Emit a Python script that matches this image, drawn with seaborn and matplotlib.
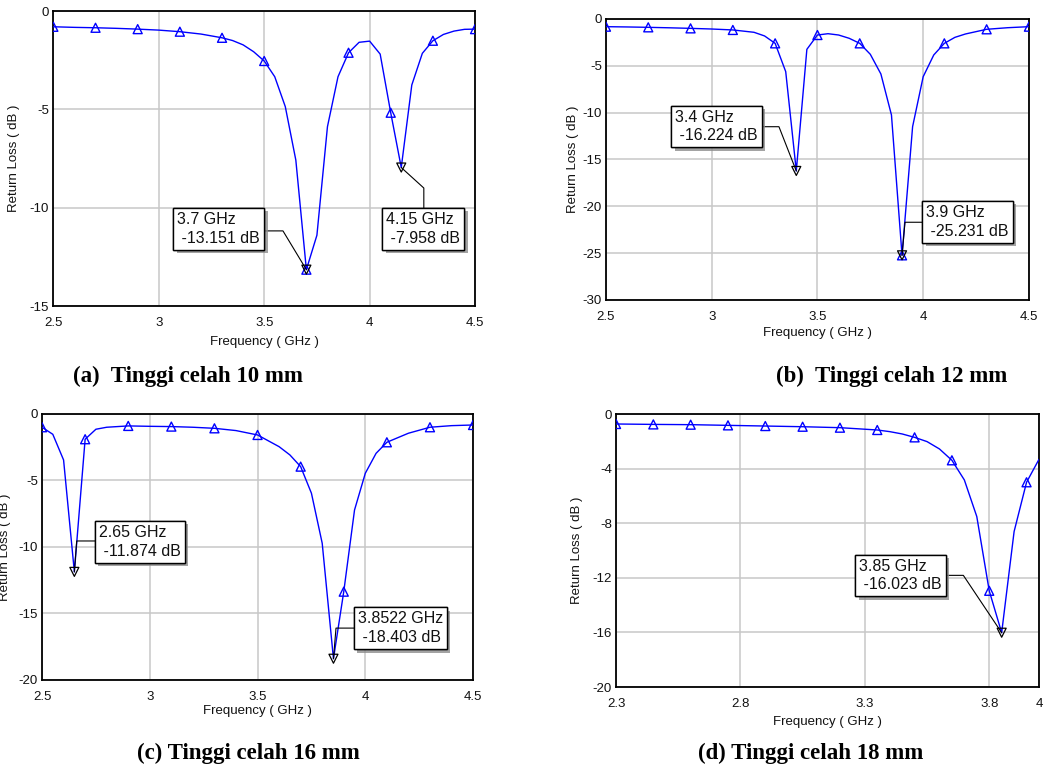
import matplotlib
matplotlib.use("Agg")
import matplotlib.pyplot as plt
import matplotlib.patheffects as pe
import seaborn as sns

# ---------------- data ----------------
freq_a = [2.5, 2.6, 2.7, 2.8, 2.9, 3.0, 3.1, 3.2, 3.3, 3.35, 3.4, 3.45, 3.5, 3.55, 3.6, 3.65,
          3.7, 3.75, 3.8, 3.85, 3.9, 3.95, 4.0, 4.05, 4.1, 4.15, 4.2, 4.25, 4.3, 4.35, 4.4, 4.45, 4.5]
rl_a = [-0.80, -0.83, -0.85, -0.88, -0.92, -0.97, -1.05, -1.17, -1.36, -1.50, -1.72, -2.07, -2.54,
        -3.34, -4.86, -7.58, -13.151, -11.40, -5.88, -3.34, -2.12, -1.59, -1.53, -2.19, -5.17,
        -7.958, -3.76, -2.15, -1.51, -1.19, -1.02, -0.93, -0.92]
marks_a = [2.5, 2.7, 2.9, 3.1, 3.3, 3.5, 3.7, 3.9, 4.1, 4.3, 4.5]
peaks_a = [3.7, 4.15]

freq_b = [2.5, 2.6, 2.7, 2.8, 2.9, 3.0, 3.1, 3.2, 3.25, 3.3, 3.35, 3.4, 3.45, 3.5, 3.55, 3.6, 3.65,
          3.7, 3.75, 3.8, 3.85, 3.9, 3.95, 4.0, 4.05, 4.1, 4.15, 4.2, 4.3, 4.4, 4.5]
rl_b = [-0.82, -0.85, -0.89, -0.94, -1.00, -1.07, -1.17, -1.42, -1.81, -2.60, -5.62, -16.224,
        -3.24, -1.71, -1.57, -1.71, -2.06, -2.60, -3.77, -5.87, -10.25, -25.231, -11.49, -6.16,
        -3.84, -2.60, -1.96, -1.60, -1.10, -0.93, -0.82]
marks_b = [2.5, 2.7, 2.9, 3.1, 3.3, 3.5, 3.7, 3.9, 4.1, 4.3, 4.5]
peaks_b = [3.4, 3.9]

freq_c = [2.5, 2.55, 2.6, 2.65, 2.7, 2.75, 2.8, 2.9, 3.0, 3.1, 3.2, 3.3, 3.4, 3.5, 3.6, 3.65, 3.7,
          3.75, 3.8, 3.8522, 3.9, 3.95, 4.0, 4.05, 4.1, 4.2, 4.3, 4.4, 4.5]
rl_c = [-1.00, -1.53, -3.46, -11.874, -1.90, -1.15, -1.00, -0.90, -0.93, -0.95, -1.00, -1.08,
        -1.25, -1.58, -2.46, -3.08, -3.96, -5.96, -9.72, -18.403, -13.36, -7.22, -4.46, -2.96,
        -2.13, -1.45, -1.00, -0.88, -0.83]
marks_c = [2.5, 2.7, 2.9, 3.1, 3.3, 3.5, 3.7, 3.9, 4.1, 4.3, 4.5]
peaks_c = [2.65, 3.8522]

freq_d = [2.3, 2.45, 2.6, 2.75, 2.9, 3.05, 3.2, 3.35, 3.4, 3.45, 3.5, 3.55, 3.6, 3.65, 3.7, 3.75,
          3.8, 3.85, 3.9, 3.95, 4.0]
rl_d = [-0.73, -0.76, -0.78, -0.83, -0.88, -0.93, -1.00, -1.17, -1.29, -1.46, -1.71, -2.02, -2.56,
        -3.39, -4.83, -7.51, -12.95, -16.023, -8.61, -5.00, -3.32]
marks_d = [2.3, 2.45, 2.6, 2.75, 2.9, 3.05, 3.2, 3.35, 3.5, 3.65, 3.8, 3.95]
peaks_d = [3.85]

xticks_abc = [2.5, 3.0, 3.5, 4.0, 4.5]
xticklabels_abc = ["2.5", "3", "3.5", "4", "4.5"]
xticks_d = [2.3, 2.8, 3.3, 3.8, 4.0]
xticklabels_d = ["2.3", "2.8", "3.3", "3.8", "4"]

captions = ["(a)  Tinggi celah 10 mm", "(b)  Tinggi celah 12 mm",
            "(c) Tinggi celah 16 mm", "(d) Tinggi celah 18 mm"]
xlabel = "Frequency ( GHz )"
ylabel = "Return Loss ( dB )"

# ---------------- style ----------------
sns.set_theme(style="white")
plt.rcParams["font.family"] = ["Liberation Sans", "DejaVu Sans"]

fig = plt.figure(figsize=(10.48, 7.72), dpi=100)

BLUE = "#0000ff"


def panel(rect, freq, rl, marks, peaks, xlim, ylim, xticks, xticklabels, yticks,
          boxes, leaders, ylab_x, xlab_y):
    ax = fig.add_axes(rect)
    sns.lineplot(x=freq, y=rl, ax=ax, color=BLUE, lw=1.0, sort=False, estimator=None, zorder=3)
    lookup = dict(zip(freq, rl))
    sns.scatterplot(x=marks, y=[lookup[m] for m in marks], ax=ax, marker="^", s=42,
                    facecolor="none", edgecolor=BLUE, linewidth=1.0, zorder=4)
    sns.scatterplot(x=peaks, y=[lookup[p] for p in peaks], ax=ax, marker="v", s=42,
                    facecolor="none", edgecolor="black", linewidth=0.9, zorder=5)
    ax.set_xlim(*xlim)
    ax.set_ylim(*ylim)
    ax.set_xticks(xticks)
    ax.set_xticklabels(xticklabels)
    ax.set_yticks(yticks)
    ax.set_yticklabels([f"{int(t)}" for t in yticks])
    ax.grid(True, color="#c8c8c8", lw=1.1)
    ax.set_axisbelow(True)
    for s in ax.spines.values():
        s.set_color("black")
        s.set_linewidth(1.3)
    ax.tick_params(axis="y", length=0, pad=3, labelsize=9.5, colors="#111111")
    ax.tick_params(axis="x", length=0, pad=8, labelsize=9.5, colors="#111111")
    ax.set_xlabel(xlabel, fontsize=9.5, color="#111111")
    ax.set_ylabel(ylabel, fontsize=9.5, color="#111111")
    ax.yaxis.set_label_coords(ylab_x, 0.5)
    ax.xaxis.set_label_coords(0.5, xlab_y)
    for p, (tx, ty), lead in zip(peaks, boxes, leaders):
        v = lookup[p]
        t = ax.text(tx, ty, f"{p:g} GHz\n {v:.3f} dB", ha="left", va="top", fontsize=11.5,
                    color="#111111", linespacing=1.3, zorder=6,
                    bbox=dict(boxstyle="square,pad=0.25", fc="white", ec="black", lw=1.0))
        t.get_bbox_patch().set_path_effects([
            pe.withSimplePatchShadow(offset=(2.5, -2.5), shadow_rgbFace="0.55", alpha=0.8),
            pe.Normal()])
        (x0, y0), (x1, y1) = lead
        ax.plot([x0, x1, p], [y0, y1, v], color="black", lw=0.8, zorder=5)
    return ax


# panel a
panel([0.0509, 0.6036, 0.4024, 0.3821], freq_a, rl_a, marks_a, peaks_a,
      (2.5, 4.5), (-15, 0), xticks_abc, xticklabels_abc, [0, -5, -10, -15],
      boxes=[(3.088, -10.22), (4.078, -10.22)],
      leaders=[((3.50, -11.18), (3.589, -11.18)), ((4.257, -10.02), (4.257, -9.0))],
      ylab_x=-0.079, xlab_y=-0.102)

# panel b
panel([0.5782, 0.6114, 0.4036, 0.3640], freq_b, rl_b, marks_b, peaks_b,
      (2.5, 4.5), (-30, 0), xticks_abc, xticklabels_abc, [0, -5, -10, -15, -20, -25, -30],
      boxes=[(2.828, -9.7), (4.015, -19.85)],
      leaders=[((3.231, -11.5), (3.318, -11.5)), ((3.997, -21.7), (3.914, -21.7))],
      ylab_x=-0.064, xlab_y=-0.096)

# panel c
panel([0.0401, 0.1192, 0.4113, 0.3446], freq_c, rl_c, marks_c, peaks_c,
      (2.5, 4.5), (-20, 0), xticks_abc, xticklabels_abc, [0, -5, -10, -15, -20],
      boxes=[(2.763, -8.35), (3.965, -14.85)],
      leaders=[((2.746, -9.55), (2.661, -9.55)), ((3.948, -16.1), (3.864, -16.1))],
      ylab_x=-0.072, xlab_y=-0.094)

# panel d
panel([0.5878, 0.1101, 0.4036, 0.3536], freq_d, rl_d, marks_d, peaks_d,
      (2.3, 4.0), (-20, 0), xticks_d, xticklabels_d, [0, -4, -8, -12, -16, -20],
      boxes=[(3.277, -10.6)],
      leaders=[((3.625, -11.82), (3.696, -11.82))],
      ylab_x=-0.078, xlab_y=-0.106)

cap_pos = [(188, 376), (892, 376), (248, 753), (811, 753)]
for (cx, cy), cap in zip(cap_pos, captions):
    fig.text(cx / 1048, 1 - cy / 772, cap, ha="center", va="center", fontsize=16.5,
             fontweight="bold", family=["Liberation Serif", "DejaVu Serif"], color="black")

fig.savefig("out.png", dpi=100)
